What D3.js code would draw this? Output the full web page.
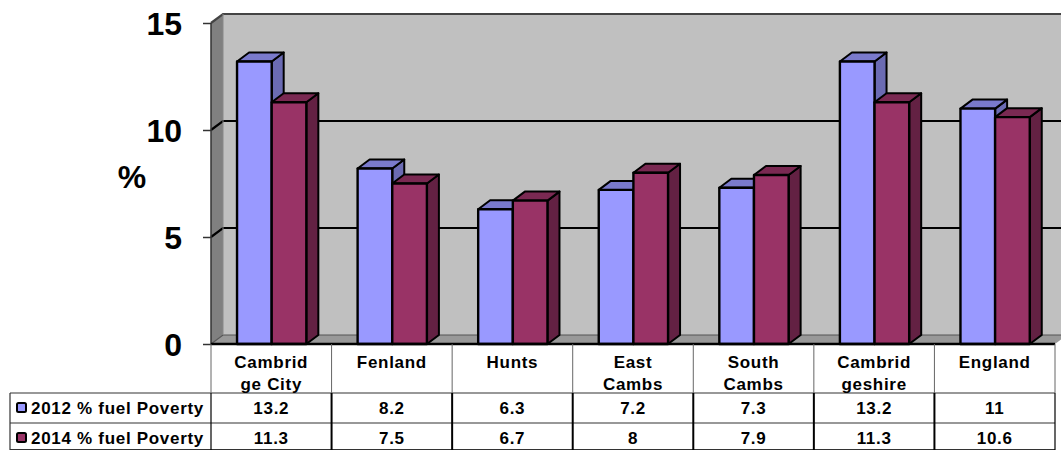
<!DOCTYPE html>
<html>
<head>
<meta charset="utf-8">
<script src="https://cdn.jsdelivr.net/npm/d3@7"></script>
<style>
  body { margin: 0; background: #fff; }
  svg { display: block; }
  text { font-family: "Liberation Sans", Arial, sans-serif; font-weight: bold; fill: #000; }
  .domain { display: none; }
</style>
</head>
<body>
<svg id="chart" width="1061" height="450"></svg>
<script>
const categories = ["Cambrid\nge City", "Fenland", "Hunts", "East\nCambs", "South\nCambs", "Cambrid\ngeshire", "England"];
const seriesNames = ["2012 % fuel Poverty", "2014 % fuel Poverty"];
const values2012 = [13.2, 8.2, 6.3, 7.2, 7.3, 13.2, 11];
const values2014 = [11.3, 7.5, 6.7, 8, 7.9, 11.3, 10.6];
const yTicks = [0, 5, 10, 15];

const seriesValues = [values2012, values2014];
const colors = [
  { front: "#9999ff", top: "#7a7acc", side: "#6b6bb3" },
  { front: "#993366", top: "#7a2952", side: "#632143" }
];

const WIDTH = 1061, HEIGHT = 450;
const left = 211, right = 1055, zero = 344, top15 = 23;
const depthX = 12, depthY = 9;
const tableLeft = 10, rowTops = [344, 393, 423, 450];
const textSpacing = "0.7px";

const svg = d3.select("#chart");
const x = d3.scaleBand().domain(categories).range([left, right]);
const y = d3.scaleLinear().domain([0, 15]).range([zero, top15]);
const inner = d3.scaleBand().domain([0, 1]).range([0, x.bandwidth()]).paddingInner(0).paddingOuter(0.74);

function poly(g, pts, fill, stroke, sw) {
  return g.append("polygon")
    .attr("points", pts.map(p => p.join(",")).join(" "))
    .attr("fill", fill)
    .attr("stroke", stroke || "none")
    .attr("stroke-width", sw || 0)
    .attr("stroke-linejoin", "round");
}

// walls and floor
const walls = svg.append("g");
poly(walls, [[left + depthX, y(15) - depthY], [WIDTH + 2, y(15) - depthY], [WIDTH + 2, zero - depthY], [left + depthX, zero - depthY]], "#c0c0c0");
poly(walls, [[left, y(15)], [left + depthX, y(15) - depthY], [left + depthX, zero - depthY], [left, zero]], "#808080");
poly(walls, [[left, zero], [left + depthX, zero - depthY], [right + depthX, zero - depthY], [right, zero]], "#999999");

// grid lines, running round the side wall and along the back
const grid = svg.append("g");
yTicks.forEach(t => {
  grid.append("polyline")
    .attr("points", [[left, y(t)], [left + depthX, y(t) - depthY], [WIDTH + 2, y(t) - depthY]].map(p => p.join(",")).join(" "))
    .attr("fill", "none")
    .attr("stroke", t === 0 ? "#555" : t === 15 ? "#444" : "#000")
    .attr("stroke-width", t === 0 ? 1.2 : 2.2);
});
grid.append("line")
  .attr("x1", left + depthX).attr("x2", left + depthX)
  .attr("y1", y(15) - depthY).attr("y2", zero - depthY)
  .attr("stroke", "#888").attr("stroke-width", 1);

// value axis
const yAxis = d3.axisLeft(y).tickValues(yTicks).tickSize(8).tickPadding(21).tickFormat(d3.format("d"));
const axisG = svg.append("g").attr("transform", `translate(${left},0)`).call(yAxis);
axisG.selectAll("text").style("font-size", "32px").attr("dy", "0.36em");
axisG.selectAll("line").attr("stroke", "#333").attr("stroke-width", 1.5);
svg.append("line").attr("x1", left).attr("x2", left).attr("y1", y(15)).attr("y2", zero).attr("stroke", "#333").attr("stroke-width", 1.5);

svg.append("text").attr("x", 132).attr("y", 188).attr("text-anchor", "middle").style("font-size", "32px").text("%");

// bars, 3d boxes
const bars = svg.append("g").attr("stroke-linejoin", "round");
categories.forEach((c, i) => {
  seriesValues.forEach((vals, s) => {
    const x0 = x(c) + inner(s) + 0.4, x1 = x0 + inner.bandwidth();
    const yt = y(vals[i]), c3 = colors[s];
    const g = bars.append("g");
    poly(g, [[x1, zero], [x1 + depthX, zero - depthY], [x1 + depthX, yt - depthY], [x1, yt]], c3.side, "#000", 2);
    poly(g, [[x0, yt], [x0 + depthX, yt - depthY], [x1 + depthX, yt - depthY], [x1, yt]], c3.top, "#000", 2);
    poly(g, [[x0, zero], [x0, yt], [x1, yt], [x1, zero]], c3.front, "#000", 2.4);
  });
});

// data table
const table = svg.append("g");
const tline = (x1, y1, x2, y2, col, sw) => table.append("line")
  .attr("x1", x1).attr("y1", y1).attr("x2", x2).attr("y2", y2)
  .attr("stroke", col).attr("stroke-width", sw);

tline(left, rowTops[0], right, rowTops[0], "#000", 2.4);
tline(tableLeft, rowTops[1], right, rowTops[1], "#333", 1.2);
tline(tableLeft, rowTops[2], right, rowTops[2], "#333", 1.2);
tline(tableLeft, rowTops[3] - 0.5, right, rowTops[3] - 0.5, "#333", 1.2);
tline(tableLeft, rowTops[1], tableLeft, HEIGHT, "#333", 1.2);
d3.range(categories.length + 1).forEach(i => {
  const xp = left + i * x.bandwidth();
  tline(xp, rowTops[0], xp, rowTops[1], "#666", 1);
  tline(xp, rowTops[1], xp, HEIGHT, "#000", i === 0 || i === categories.length ? 1.2 : 2);
});

categories.forEach(c => {
  c.split("\n").forEach((line, k) => {
    table.append("text")
      .attr("x", x(c) + x.bandwidth() / 2).attr("y", 368 + k * 22)
      .attr("text-anchor", "middle").style("font-size", "17px").style("letter-spacing", textSpacing).text(line);
  });
});

seriesNames.forEach((name, s) => {
  const base = rowTops[s + 1] + 21;
  table.append("rect")
    .attr("x", 17).attr("y", base - 11).attr("width", 9).attr("height", 9).attr("rx", 1.5)
    .attr("fill", colors[s].front).attr("stroke", "#000").attr("stroke-width", 2);
  table.append("text").attr("x", 31).attr("y", base).style("font-size", "17px").style("letter-spacing", textSpacing).text(name);
  seriesValues[s].forEach((v, i) => {
    table.append("text")
      .attr("x", x(categories[i]) + x.bandwidth() / 2).attr("y", base)
      .attr("text-anchor", "middle").style("font-size", "17px").style("letter-spacing", textSpacing).text(v);
  });
});
</script>
</body>
</html>
